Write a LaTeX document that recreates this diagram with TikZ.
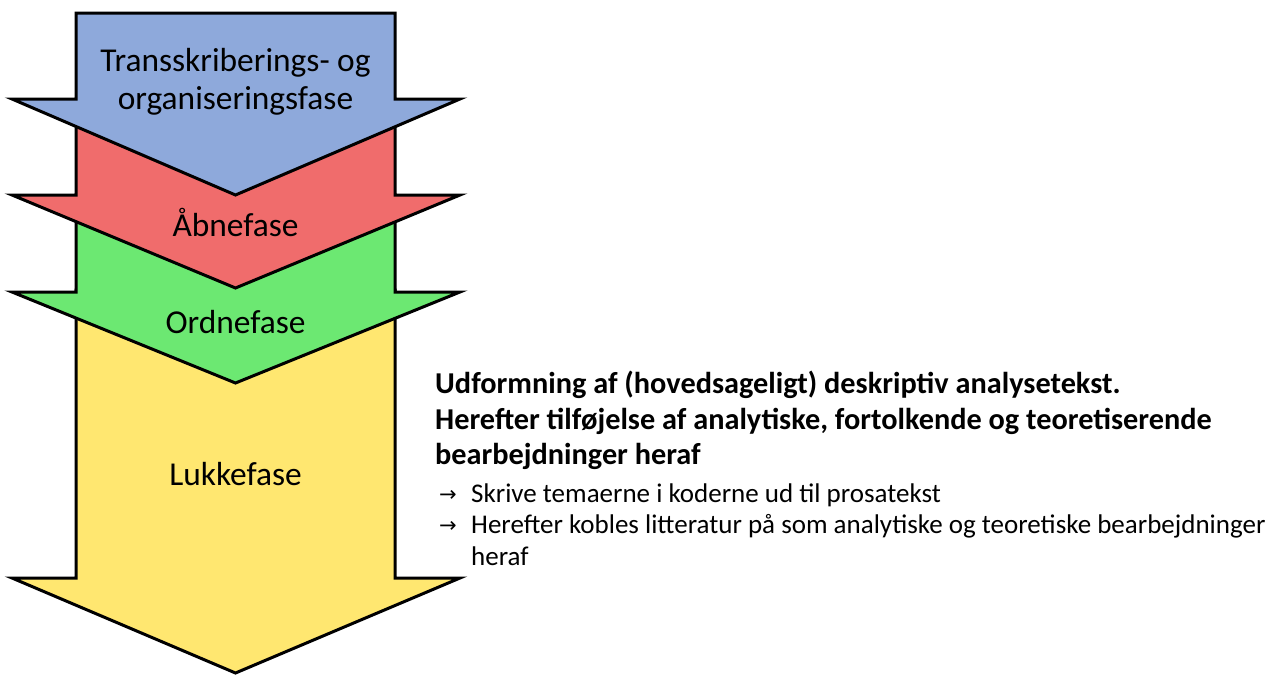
\documentclass[tikz,border=0pt]{standalone}
\usepackage{fontspec}
\setmainfont{Carlito}
\newfontfamily\symfont{DejaVu Sans}
\definecolor{cblue}{RGB}{142,169,219}
\definecolor{cred}{RGB}{240,108,108}
\definecolor{cgreen}{RGB}{108,232,114}
\definecolor{cyellow}{RGB}{255,231,112}
\tikzset{
  phase/.style={draw=black, line width=3pt, line join=miter},
  lbl/.style={font=\fontsize{33.4}{38.5}\selectfont, align=center, inner sep=0pt},
  head/.style={font=\bfseries\fontsize{30.3}{37}\selectfont, anchor=base west, inner sep=0pt},
  item/.style={font=\fontsize{27}{33}\selectfont, anchor=base west, inner sep=0pt},
  arr/.style={font=\symfont\fontsize{21}{33}\selectfont, anchor=base west, inner sep=0pt}
}
\begin{document}
\begin{tikzpicture}[x=1pt,y=-1pt]
\useasboundingbox (0,0) rectangle (1276,675);
% yellow
\filldraw[phase, fill=cyellow] (76,290) -- (395,290) -- (395,578) -- (460,578) -- (235.5,673) -- (12,578) -- (76,578) -- cycle;
% green
\filldraw[phase, fill=cgreen] (76,195) -- (395,195) -- (395,292) -- (460,292) -- (235.5,383) -- (12,292) -- (76,292) -- cycle;
% red
\filldraw[phase, fill=cred] (76,100) -- (395,100) -- (395,195) -- (460,195) -- (235.5,288) -- (12,195) -- (76,195) -- cycle;
% blue
\filldraw[phase, fill=cblue] (76,13) -- (395,13) -- (395,99) -- (460,99) -- (235.5,195) -- (12,99) -- (76,99) -- cycle;

\node[lbl] (t1) at (235.5,82) {Transskriberings- og\\organiseringsfase};
\node[lbl, anchor=base] (t2) at (235.5,236) {Åbnefase};
\node[lbl, anchor=base] (t3) at (235.5,333) {Ordnefase};
\node[lbl, anchor=base] (t4) at (235.5,485) {Lukkefase};

\node[head] (h1) at (435,393) {Udformning af (hovedsageligt) deskriptiv analysetekst.};
\node[head] (h2) at (435,429) {Herefter tilføjelse af analytiske, fortolkende og teoretiserende};
\node[head] (h3) at (435,464) {bearbejdninger heraf};
\node[arr] (a1) at (439,501) {→};
\node[item] (i1) at (471,502) {Skrive temaerne i koderne ud til prosatekst};
\node[arr] (a2) at (439,532) {→};
\node[item] (i2) at (471,533) {Herefter kobles litteratur på som analytiske og teoretiske bearbejdninger};
\node[item] (i3) at (471,565) {heraf};
\end{tikzpicture}
\end{document}
